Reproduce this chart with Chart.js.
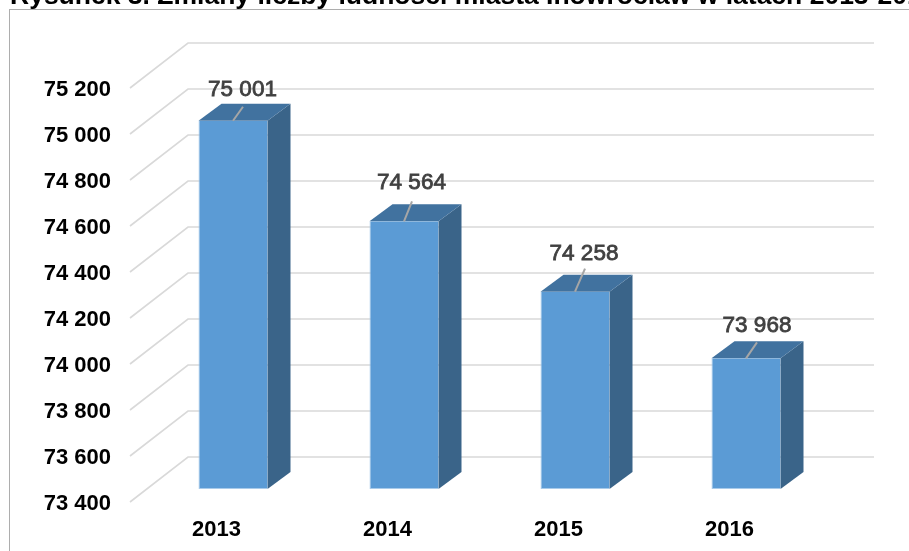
<!DOCTYPE html>
<html lang="pl">
<head>
<meta charset="utf-8">
<title>Liczba ludności Inowrocławia</title>
<script src="https://cdn.jsdelivr.net/npm/chart.js@4"></script>
<style>
html,body{margin:0;padding:0;background:#fff;overflow:hidden}
#page{position:relative;width:909px;height:551px;overflow:hidden;background:#fff}
#frame{position:absolute;left:9px;top:9px;width:920px;height:560px;border:1px solid #adadad;box-sizing:border-box}
canvas{position:absolute;left:0;top:0}
</style>
</head>
<body>
<div id="page">
<div id="frame"></div>
<canvas id="chart" width="1000" height="551" style="width:1000px;height:551px"></canvas>
</div>
<script>
const chartTitle = 'Rysunek 3. Zmiany liczby ludności miasta Inowrocław w latach 2013-2016';
const years = ['2013', '2014', '2015', '2016'];
const population = [75001, 74564, 74258, 73968];
const axisMin = 73400;
const axisMax = 75200;
const axisStep = 200;

// 3D projection of the picture, in pixels
const wallDepth = {dx: 58, dy: -45};
const gridLift = 1.5;
const barShift = {dx: 16.5, dy: -14.5};
const barDepth = {dx: 23, dy: -17};
const wallWidth = 686;
// data-label placement relative to the top centre of each bar's front face
const labelOffset = [[9.5, -31], [7.5, -38], [9, -38], [11, -33]];
const leaderEnd = [[10, -14], [8, -20], [10, -23], [11, -16]];

const fmt = v => String(Math.round(v)).replace(/\B(?=(\d{3})+$)/g, ' ');

const scene3d = {
  id: 'scene3d',
  afterLayout(chart) {
    // the title runs off the right edge of the picture at its natural width
    chart.titleBlock.right = chart.titleBlock.left + 2000;
  },
  beforeDatasetsDraw(chart) {
    const {ctx, scales: {x, y}} = chart;
    ctx.save();
    ctx.strokeStyle = '#d9d9d9';
    ctx.lineWidth = 1.6;
    y.ticks.forEach(t => {
      const py = y.getPixelForValue(t.value) - gridLift;
      ctx.beginPath();
      ctx.moveTo(x.left - 1, py);
      ctx.lineTo(x.left - 1 + wallDepth.dx, py + wallDepth.dy);
      ctx.lineTo(x.left - 1 + wallDepth.dx + wallWidth, py + wallDepth.dy);
      ctx.stroke();
    });
    ctx.restore();
    ctx.save();
    ctx.translate(barShift.dx, barShift.dy);
    chart.getDatasetMeta(0).data.forEach(bar => {
      const l = bar.x - bar.width / 2, r = bar.x + bar.width / 2;
      const t = bar.y, b = bar.base;
      ctx.fillStyle = '#3a6489';
      ctx.beginPath();
      ctx.moveTo(r, t);
      ctx.lineTo(r + barDepth.dx, t + barDepth.dy);
      ctx.lineTo(r + barDepth.dx, b + barDepth.dy);
      ctx.lineTo(r, b);
      ctx.closePath();
      ctx.fill();
      ctx.fillStyle = '#41729f';
      ctx.beginPath();
      ctx.moveTo(l, t);
      ctx.lineTo(l + barDepth.dx, t + barDepth.dy);
      ctx.lineTo(r + barDepth.dx, t + barDepth.dy);
      ctx.lineTo(r, t);
      ctx.closePath();
      ctx.fill();
    });
  },
  afterDatasetsDraw(chart) {
    const {ctx} = chart;
    const bars = chart.getDatasetMeta(0).data;
    bars.forEach((bar, i) => {
      ctx.strokeStyle = '#a6a6a6';
      ctx.lineWidth = 2;
      ctx.beginPath();
      ctx.moveTo(bar.x, bar.y);
      ctx.lineTo(bar.x + leaderEnd[i][0], bar.y + leaderEnd[i][1]);
      ctx.stroke();
      ctx.fillStyle = '#404040';
      ctx.font = '22.5px "Liberation Sans", Arial, sans-serif';
      ctx.textAlign = 'center';
      ctx.textBaseline = 'middle';
      const lx = bar.x + labelOffset[i][0], ly = bar.y + labelOffset[i][1];
      ctx.fillText(fmt(population[i]), lx, ly);
      ctx.strokeStyle = '#404040';
      ctx.lineWidth = 0.8;
      ctx.strokeText(fmt(population[i]), lx, ly);
    });
    ctx.restore();
  }
};

new Chart(document.getElementById('chart'), {
  type: 'bar',
  data: {
    labels: years,
    datasets: [{
      data: population,
      base: axisMin,
      backgroundColor: '#5b9bd5',
      borderColor: '#a9cbea',
      borderWidth: {left: 1, bottom: 1},
      borderSkipped: false,
      barPercentage: 69 / 171,
      categoryPercentage: 1,
      clip: false
    }]
  },
  options: {
    responsive: false,
    animation: false,
    devicePixelRatio: 1,
    layout: {padding: {left: 10, right: 185, top: 0, bottom: 0}},
    plugins: {
      legend: {display: false},
      tooltip: {enabled: false},
      title: {
        display: true,
        text: chartTitle,
        align: 'start',
        color: '#000',
        font: {family: '"Liberation Sans", Arial, sans-serif', size: 26.5, weight: 'bold', lineHeight: 1.2},
        padding: {top: -18.9, bottom: 76.6}
      }
    },
    scales: {
      x: {
        grid: {display: false, drawTicks: false},
        border: {display: false},
        ticks: {
          color: '#000', padding: 13.5, maxRotation: 0,
          font: {family: '"Liberation Sans", Arial, sans-serif', size: 22, weight: 'bold'}
        },
        afterFit(s) { s.height = 47.5; }
      },
      y: {
        min: axisMin,
        max: axisMax,
        grid: {display: false, drawTicks: false},
        border: {display: false},
        ticks: {
          stepSize: axisStep,
          color: '#000', padding: 20,
          callback: v => fmt(v),
          font: {family: '"Liberation Sans", Arial, sans-serif', size: 22, weight: 'bold'}
        },
        afterFit(s) { s.width = 121; }
      }
    }
  },
  plugins: [scene3d]
});
</script>
</body>
</html>
